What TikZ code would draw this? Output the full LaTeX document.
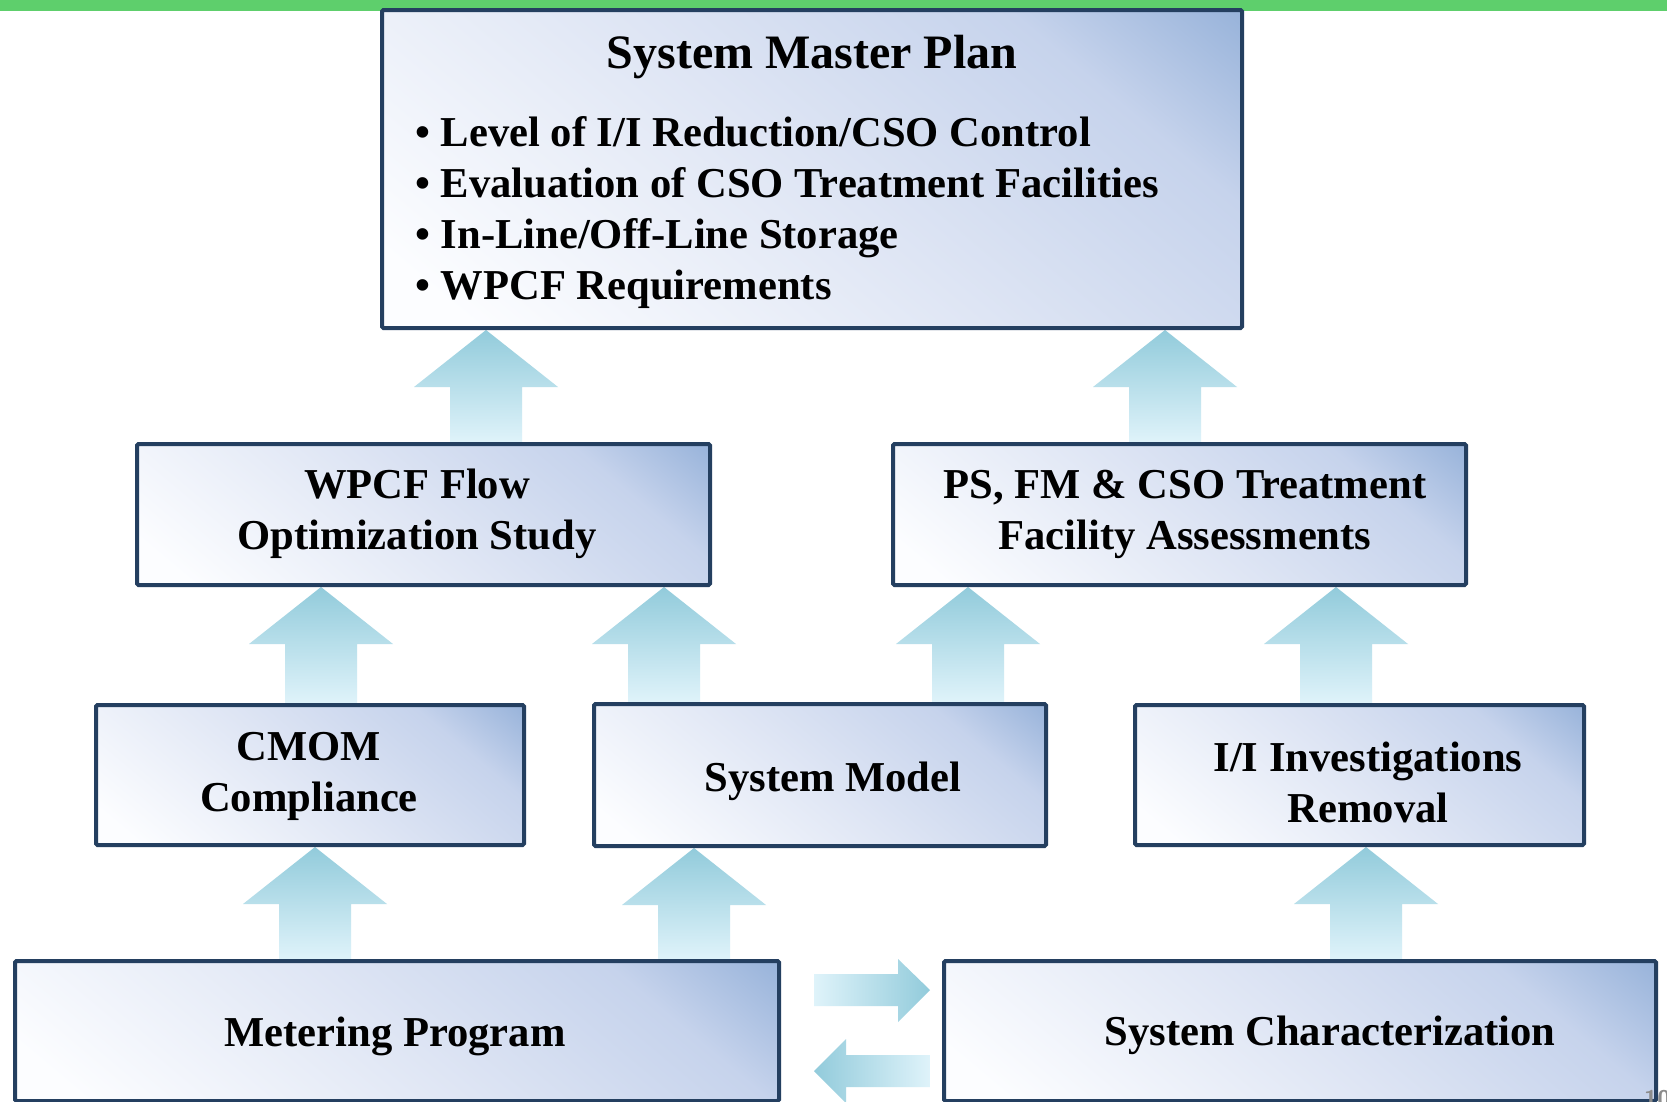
\documentclass[tikz,border=0pt]{standalone}
\usepackage{fontspec}
\setmainfont{Liberation Serif}
\usetikzlibrary{calc}
\definecolor{bordc}{HTML}{243F60}
\definecolor{boxA}{HTML}{FCFDFF}
\definecolor{boxB}{HTML}{DEE5F4}
\definecolor{boxB2}{HTML}{C6D3EC}
\definecolor{boxC}{HTML}{95B1D9}
\definecolor{arrDark}{HTML}{92CBDB}
\definecolor{arrLight}{HTML}{DFF3FA}
\definecolor{greenbar}{HTML}{5ECF6C}
\definecolor{pggray}{HTML}{8C8C8C}
\pgfdeclareverticalshading{boxshade}{100bp}{color(0bp)=(boxA); color(20bp)=(boxA); color(50bp)=(boxB); color(72bp)=(boxB2); color(86bp)=(boxC); color(100bp)=(boxC)}
\pgfdeclarelayer{bg}
\pgfsetlayers{bg,main}
\tikzset{
  box/.style={draw=bordc, line width=4pt, shading=boxshade, shading angle=-40, rounded corners=1.5pt, inner sep=0pt},
  txt/.style={font=\fontsize{42.6}{51}\selectfont\bfseries, align=center, inner sep=0pt, text=black},
  ttl/.style={font=\fontsize{48}{56}\selectfont\bfseries, inner sep=0pt},
  upshade/.style={top color=arrDark, bottom color=arrLight, draw=none},
  rshade/.style={left color=arrLight, right color=arrDark, draw=none},
  lshade/.style={left color=arrDark, right color=arrLight, draw=none}
}
\newcommand{\upblock}[3]{%
  \path[upshade] let \p1=(#2.south), \p2=(#3.north) in
   (#1pt-36pt,\y2) -- (#1pt-36pt,\y1-57pt) -- (#1pt-72pt,\y1-57pt) -- (#1pt,\y1)
   -- (#1pt+72pt,\y1-57pt) -- (#1pt+36pt,\y1-57pt) -- (#1pt+36pt,\y2) -- cycle;}
\begin{document}
\begin{tikzpicture}[x=1pt,y=-1pt]
\useasboundingbox (0,0) rectangle (1667,1101);
\clip (0,0) rectangle (1667,1101);
\begin{pgfonlayer}{bg}
\fill[white] (0,0) rectangle (1667,1101);
\end{pgfonlayer}
\fill[greenbar] (0,0) rectangle (1667,11);

% boxes
\node[box, minimum width=860pt, minimum height=318pt] (master) at (812,169) {};
\node[box, minimum width=573pt, minimum height=141pt] (wpcf) at (423.5,514.5) {};
\node[box, minimum width=573pt, minimum height=141pt] (psfm) at (1179.5,514.5) {};
\node[box, minimum width=428pt, minimum height=140pt] (cmom) at (310,775) {};
\node[box, minimum width=452pt, minimum height=142pt] (model) at (820,775) {};
\node[box, minimum width=449pt, minimum height=140pt] (infl) at (1359.5,775) {};
\node[box, minimum width=764pt, minimum height=140pt] (meter) at (397,1031) {};
\node[box, minimum width=712pt, minimum height=140pt] (schar) at (1300,1031) {};

% texts
\node[ttl] (tmaster) at (812,57) {System Master Plan};
\node[txt, anchor=west, align=left] (tbul) at (415,213) {• Level of I/I Reduction/CSO Control\\• Evaluation of CSO Treatment Facilities\\• In-Line/Off-Line Storage\\• WPCF Requirements};
\node[txt] (twpcf) at (417,514) {WPCF Flow\\Optimization Study};
\node[txt] (tpsfm) at (1185,514) {PS, FM \& CSO Treatment\\Facility Assessments};
\node[txt] (tcmom) at (309,776) {CMOM\\Compliance};
\node[txt] (tmodel) at (833,781) {System Model};
\node[txt] (tinfl) at (1368,782) {I/I Investigations\\Removal};
\node[txt] (tmeter) at (395,1036) {Metering Program};
\node[txt] (tschar) at (1330,1035) {System Characterization};

% arrows
\begin{pgfonlayer}{bg}
\upblock{486}{master}{wpcf}
\upblock{1165}{master}{psfm}
\upblock{321}{wpcf}{cmom}
\upblock{664}{wpcf}{model}
\upblock{968}{psfm}{model}
\upblock{1336}{psfm}{infl}
\upblock{315}{cmom}{meter}
\upblock{694}{model}{meter}
\upblock{1366}{infl}{schar}
\end{pgfonlayer}
\path[rshade] let \p1=(meter.east), \p2=(schar.west) in
  (\x1+33pt,-974pt) -- (\x2-44pt,-974pt) -- (\x2-44pt,-959pt) -- (\x2-12pt,-990pt)
  -- (\x2-44pt,-1022pt) -- (\x2-44pt,-1006pt) -- (\x1+33pt,-1006pt) -- cycle;
\path[lshade] let \p1=(meter.east), \p2=(schar.west) in
  (\x2-12pt,-1055pt) -- (\x1+65pt,-1055pt) -- (\x1+65pt,-1039pt) -- (\x1+33pt,-1071pt)
  -- (\x1+65pt,-1103pt) -- (\x1+65pt,-1087pt) -- (\x2-12pt,-1087pt) -- cycle;

\node[anchor=north west, inner sep=0pt, text=pggray, font=\fontsize{24}{24}\selectfont\sffamily\bfseries] (pg) at (1644,1090) {10};
\end{tikzpicture}
\end{document}
